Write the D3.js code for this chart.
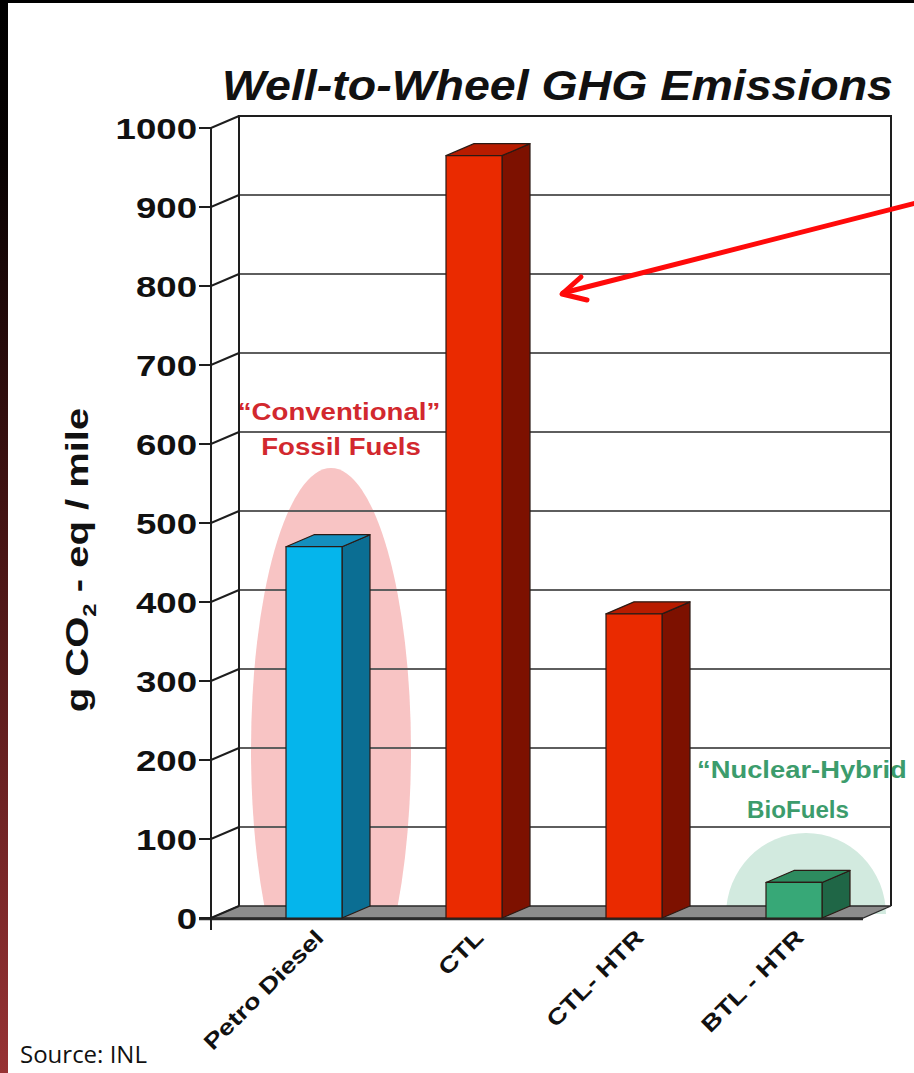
<!DOCTYPE html>
<html>
<head>
<meta charset="utf-8">
<script src="https://cdn.jsdelivr.net/npm/d3@7"></script>
<style>
  html, body { margin: 0; padding: 0; background: #fff; }
  svg { display: block; }
</style>
</head>
<body>
<svg id="chart" width="914" height="1073"></svg>
<script>
// ---- data ----
const categories = ["Petro Diesel", "CTL", "CTL- HTR", "BTL - HTR"];
const emissions = [470, 965, 385, 45];          // g CO2-eq / mile
const fuelGroup = ["fossil", "fossil", "fossil", "bio"];
const yTicks = [0, 100, 200, 300, 400, 500, 600, 700, 800, 900, 1000];
const chartTitle = "Well-to-Wheel GHG Emissions";
const sourceNote = "Source: INL";

// ---- layout ----
const W = 914, H = 1073;
const FONT = "'Liberation Sans', Arial, Helvetica, sans-serif";
const depthX = 28, depthY = 12;          // 3-D offset of the back wall
const axisX = 211;                       // front edge of the value axis
const wallRight = 891;

const svg = d3.select("#chart");

const y = d3.scaleLinear().domain([0, 1000]).range([918, 128]);
const x = d3.scaleBand().domain(categories).range([234, 874])
  .paddingInner(0.65).paddingOuter(0.325);

// bar colours: front / side / top faces
const faceColors = {
  "Petro Diesel": { front: "#05b5ec", side: "#0b6e93", top: "#148fbe" },
  "CTL":          { front: "#ea2a00", side: "#7d1100", top: "#b81c00" },
  "CTL- HTR":     { front: "#ea2a00", side: "#7d1100", top: "#b81c00" },
  "BTL - HTR":    { front: "#37a877", side: "#1f6646", top: "#2d8b5f" }
};

// ---- slide frame ----
const defs = svg.append("defs");
const grad = defs.append("linearGradient")
  .attr("id", "edgeGrad").attr("x1", 0).attr("y1", 0).attr("x2", 0).attr("y2", 1);
grad.append("stop").attr("offset", 0).attr("stop-color", "#000");
grad.append("stop").attr("offset", 0.15).attr("stop-color", "#080202");
grad.append("stop").attr("offset", 0.5).attr("stop-color", "#461414");
grad.append("stop").attr("offset", 1).attr("stop-color", "#973234");

// highlights stop at the floor
defs.append("clipPath").attr("id", "aboveFloor")
  .append("rect").attr("x", 0).attr("y", 0).attr("width", W).attr("height", y(0) - 4);

svg.append("rect").attr("width", W).attr("height", H).attr("fill", "#fff");
svg.append("rect").attr("x", 0).attr("y", 0).attr("width", W).attr("height", 3).attr("fill", "#000");
svg.append("rect").attr("x", 0).attr("y", 0).attr("width", 8).attr("height", H).attr("fill", "url(#edgeGrad)");

// ---- group highlight ellipses ----
const hl = svg.append("g").attr("clip-path", "url(#aboveFloor)");
hl.append("ellipse").attr("cx", 331).attr("cy", 750).attr("rx", 80).attr("ry", 282)
  .attr("fill", "#f8c4c4");
hl.append("ellipse").attr("cx", 806).attr("cy", 915).attr("rx", 80).attr("ry", 82)
  .attr("fill", "#d2eadf");

// ---- back wall gridlines ----
const wall = svg.append("g");
wall.selectAll("line.grid")
  .data(yTicks.filter(t => t > 0 && t < 1000))
  .join("line")
  .attr("class", "grid")
  .attr("x1", axisX + depthX).attr("x2", wallRight)
  .attr("y1", d => y(d) - depthY).attr("y2", d => y(d) - depthY)
  .attr("stroke", "#5e5e5e").attr("stroke-width", 1.8);

// ---- group annotations ----
function label(txt, cx, by, size, color, sx) {
  return svg.append("text")
    .attr("transform", `translate(${cx},${by}) scale(${sx},1)`)
    .attr("text-anchor", "middle")
    .attr("font-family", FONT).attr("font-weight", "bold")
    .attr("font-size", size).attr("fill", color)
    .text(txt);
}
label("\u201CConventional\u201D", 339, 420, 24, "#d2282e", 1.15);
label("Fossil Fuels", 341, 455, 24, "#d2282e", 1.15);
svg.append("text")
  .attr("transform", `translate(697,778) scale(1.19,1)`)
  .attr("font-family", FONT).attr("font-weight", "bold")
  .attr("font-size", 23).attr("fill", "#3c9c6c")
  .text("\u201CNuclear-Hybrid");
label("BioFuels", 798, 818, 23, "#3c9c6c", 1.05);

// ---- wall outline ----
const outline = svg.append("g").attr("stroke", "#1e1e1e").attr("stroke-width", 2).attr("fill", "none");
outline.append("path")
  .attr("d", `M${axisX + depthX},${y(0) - depthY} V${y(1000) - depthY} H${wallRight} V${y(0) - depthY}`);

// ---- floor ----
svg.append("path")
  .attr("d", `M${axisX},${y(0)} L${axisX + depthX},${y(0) - depthY} H${wallRight} L${wallRight - depthX},${y(0)} Z`)
  .attr("fill", "#8c8c8c").attr("stroke", "#2a2a2a").attr("stroke-width", 1.3);
svg.append("line")
  .attr("x1", 199).attr("x2", wallRight - depthX)
  .attr("y1", y(0) + 1).attr("y2", y(0) + 1)
  .attr("stroke", "#2a2a2a").attr("stroke-width", 2.5);

// ---- 3-D bars ----
const bars = svg.append("g").selectAll("g.bar")
  .data(categories.map((c, i) => ({ cat: c, value: emissions[i], group: fuelGroup[i] })))
  .join("g").attr("class", "bar")
  .attr("stroke", "#2b1a14").attr("stroke-width", 1.2).attr("stroke-linejoin", "round");

bars.append("path")       // side face
  .attr("d", d => {
    const x1 = x(d.cat) + x.bandwidth(), top = y(d.value), base = y(0);
    return `M${x1},${top} L${x1 + depthX},${top - depthY} L${x1 + depthX},${base - depthY} L${x1},${base} Z`;
  })
  .attr("fill", d => faceColors[d.cat].side);
bars.append("path")       // top face
  .attr("d", d => {
    const x0 = x(d.cat), x1 = x0 + x.bandwidth(), top = y(d.value);
    return `M${x0},${top} L${x0 + depthX},${top - depthY} L${x1 + depthX},${top - depthY} L${x1},${top} Z`;
  })
  .attr("fill", d => faceColors[d.cat].top);
bars.append("rect")       // front face
  .attr("x", d => x(d.cat)).attr("width", x.bandwidth())
  .attr("y", d => y(d.value)).attr("height", d => y(0) - y(d.value))
  .attr("fill", d => faceColors[d.cat].front);

// ---- value axis ----
const axisG = svg.append("g").attr("stroke", "#1e1e1e").attr("stroke-width", 2).attr("fill", "none");
axisG.append("line").attr("x1", axisX).attr("x2", axisX).attr("y1", y(1000)).attr("y2", y(0) + 12);
axisG.selectAll("path.tick")
  .data(yTicks).join("path").attr("class", "tick")
  .attr("d", d => `M${axisX - 12},${y(d)} H${axisX} L${axisX + depthX},${y(d) - depthY}`);

svg.append("g").selectAll("text")
  .data(yTicks).join("text")
  .attr("transform", d => `translate(197,${y(d)}) scale(1.22,1)`)
  .attr("dy", "0.36em")
  .attr("text-anchor", "end")
  .attr("font-family", FONT).attr("font-weight", "bold").attr("font-size", 30)
  .attr("fill", "#111")
  .text(d => d);

// ---- category labels ----
svg.append("g").selectAll("text")
  .data(categories).join("text")
  .attr("transform", d => `translate(${x(d) + x.bandwidth() / 2 + 11},939) rotate(-45) scale(1.25,1)`)
  .attr("text-anchor", "end")
  .attr("font-family", FONT).attr("font-weight", "bold").attr("font-size", 22)
  .attr("fill", "#111")
  .text(d => d);

// ---- axis title ----
const yTitle = svg.append("text")
  .attr("transform", "translate(88,560) rotate(-90) scale(1.25,1)")
  .attr("text-anchor", "middle")
  .attr("font-family", FONT).attr("font-weight", "bold").attr("font-size", 32)
  .attr("fill", "#111");
yTitle.append("tspan").text("g CO");
yTitle.append("tspan").attr("font-size", 19).attr("dy", 8).text("2");
yTitle.append("tspan").attr("dy", -8).text(" - eq / mile");

// ---- chart title ----
svg.append("text")
  .attr("x", 222).attr("y", 100)
  .attr("font-family", FONT).attr("font-weight", "bold").attr("font-style", "italic")
  .attr("font-size", 43).attr("fill", "#111")
  .attr("textLength", 671).attr("lengthAdjust", "spacingAndGlyphs")
  .text(chartTitle);

// ---- callout arrow ----
const arrow = svg.append("g").attr("stroke", "#ff0a0a").attr("stroke-width", 5)
  .attr("fill", "none").attr("stroke-linecap", "round").attr("stroke-linejoin", "round");
arrow.append("line").attr("x1", 916).attr("y1", 203).attr("x2", 563).attr("y2", 293);
arrow.append("path").attr("d", "M581,277 L562,294 L587,300");

// ---- source note ----
svg.append("text")
  .attr("x", 20).attr("y", 1063)
  .attr("font-family", "'Open Sans', 'Noto Sans', sans-serif")
  .attr("font-size", 24).attr("fill", "#111")
  .text(sourceNote);
</script>
</body>
</html>
